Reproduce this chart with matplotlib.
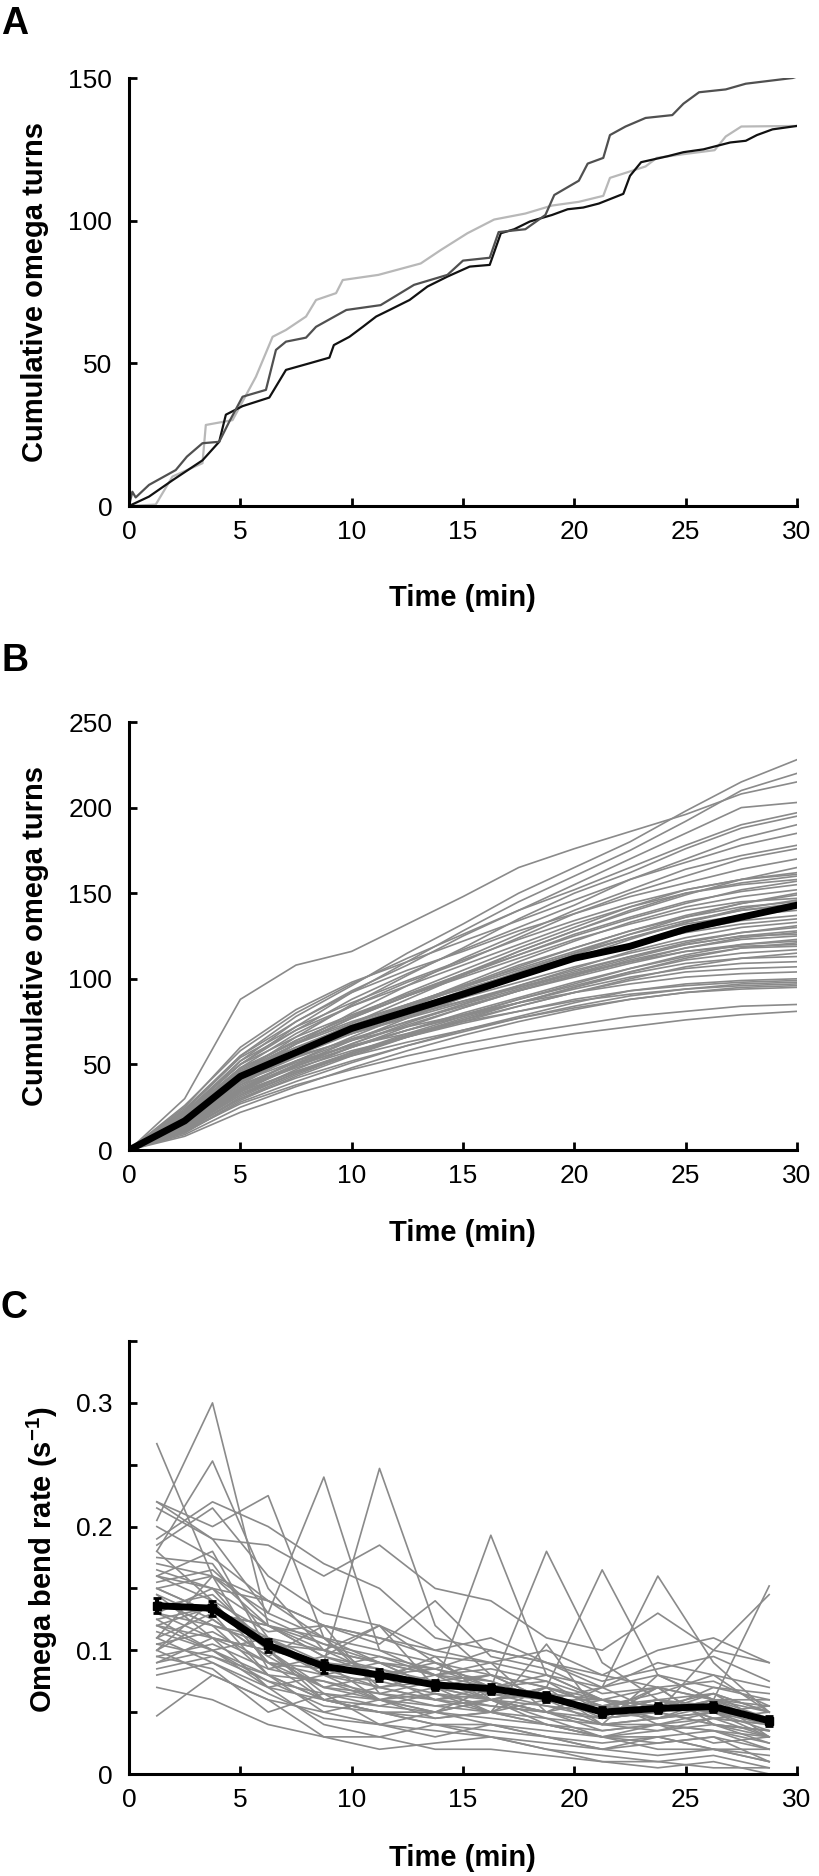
import matplotlib
matplotlib.use("Agg")
import matplotlib.pyplot as plt
import numpy as np

plt.rcParams['font.family'] = ['Liberation Sans', 'DejaVu Sans']
plt.rcParams['mathtext.fontset'] = 'custom'
plt.rcParams['mathtext.rm'] = 'Liberation Sans'
plt.rcParams['mathtext.bf'] = 'Liberation Sans:bold'

# ---------------- Panel A data (three example animals) ----------------
a_dark_t = [0, 0.15, 0.3, 0.9, 2.1, 2.6, 3.3, 4.05, 4.5, 5.1, 6.15, 6.6, 7.05, 7.95, 8.4, 9.76,
            11.3, 12.8, 14.3, 15.0, 16.2, 16.6, 17.8, 18.7, 19.1, 20.2, 20.6, 21.3, 21.6, 22.3,
            23.2, 24.4, 24.9, 25.6, 26.8, 27.7, 29.8, 30.0]
a_dark_v = [0, 5, 3, 7.4, 12.6, 17.3, 22, 22.5, 29.5, 38.3, 40.7, 54.7, 57.6, 59, 62.8, 68.7,
            70.4, 77.5, 81, 86, 87, 96, 97, 102, 109, 114, 120, 122, 130, 133,
            136, 137, 141, 145, 146, 148, 150, 150.5]
a_black_t = [0, 0.9, 1.95, 3.3, 4.05, 4.35, 5.1, 6.3, 7.05, 8.1, 9.0, 9.2, 9.9, 10.5, 11.1, 11.7,
             12.6, 13.4, 14.3, 15.3, 16.2, 16.7, 17.3, 18.0, 19.0, 19.7, 20.4, 21.1, 22.2,
             22.5, 23.0, 24.2, 24.9, 25.8, 27.0, 27.7, 28.2, 28.9, 30.0]
a_black_v = [0, 3.3, 9, 16, 22.5, 32, 35, 38, 47.7, 50, 52, 56.4, 59.3, 62.8, 66.4, 68.7,
             72.2, 76.9, 80.4, 83.9, 84.5, 95.6, 97, 99.7, 102, 104, 104.6, 106, 109.4,
             115.7, 120.5, 122.6, 124, 125, 127.4, 128, 130, 132, 133.2]
a_light_t = [0, 1.2, 1.95, 3.3, 3.45, 4.65, 5.7, 6.45, 7.05, 7.95, 8.4, 9.3, 9.6, 11.2,
             13.1, 14.0, 15.2, 16.4, 17.8, 19.0, 20.2, 21.3, 21.6, 23.2, 23.7, 24.9, 26.3,
             26.8, 27.5, 30.0]
a_light_v = [0, 0.5, 10.3, 15, 28.4, 30.1, 45.3, 59.3, 61.7, 66.4, 72.2, 74.6, 79.2, 81,
             85, 89.7, 95.6, 100.4, 102.5, 105.3, 106.6, 108.7, 115, 119, 122, 123.3, 124.7,
             129.5, 133, 133.2]

# ---------------- Panel B data (cumulative turns, all animals) ----------------
b_times = [0, 2.5, 5, 7.5, 10, 12.5, 15, 17.5, 20, 22.5, 25, 27.5, 30]
b_animals = [
    [0, 30, 88, 108, 116, 132, 148, 165, 176, 186, 196, 208, 215],
    [0, 24, 55, 78, 96, 115, 132, 150, 165, 180, 198, 215, 228],
    [0, 22, 50, 72, 92, 110, 128, 145, 160, 175, 192, 210, 220],
    [0, 20, 52, 75, 93, 108, 125, 140, 155, 170, 185, 200, 203],
    [0, 26, 58, 80, 97, 112, 126, 140, 152, 165, 178, 190, 197],
    [0, 18, 45, 66, 85, 102, 118, 135, 150, 162, 176, 188, 195],
    [0, 21, 50, 70, 88, 103, 117, 130, 143, 158, 170, 182, 190],
    [0, 25, 60, 82, 98, 110, 122, 134, 146, 158, 168, 178, 185],
    [0, 17, 42, 62, 80, 96, 112, 126, 140, 152, 164, 172, 178],
    [0, 20, 48, 68, 84, 98, 110, 124, 138, 150, 160, 170, 176],
    [0, 23, 55, 75, 92, 105, 116, 128, 138, 148, 156, 164, 170],
    [0, 19, 46, 64, 78, 92, 105, 118, 130, 142, 152, 158, 162],
    [0, 16, 40, 58, 74, 88, 102, 116, 128, 140, 150, 156, 160],
    [0, 22, 52, 70, 84, 96, 108, 120, 132, 142, 150, 155, 158],
    [0, 18, 44, 62, 77, 90, 102, 114, 126, 136, 145, 151, 155],
    [0, 15, 38, 56, 71, 84, 97, 110, 122, 133, 142, 148, 152],
    [0, 20, 47, 64, 78, 90, 101, 112, 123, 132, 140, 145, 147],
    [0, 17, 42, 58, 72, 85, 96, 108, 118, 128, 136, 142, 145],
    [0, 14, 36, 52, 66, 79, 91, 103, 114, 124, 133, 140, 143],
    [0, 19, 44, 60, 73, 84, 95, 105, 115, 124, 132, 137, 140],
    [0, 16, 40, 55, 68, 80, 91, 101, 111, 120, 128, 134, 137],
    [0, 21, 48, 63, 75, 85, 94, 103, 112, 120, 127, 132, 135],
    [0, 13, 34, 49, 62, 74, 85, 96, 106, 116, 124, 130, 133],
    [0, 18, 42, 57, 69, 79, 89, 98, 107, 115, 122, 127, 130],
    [0, 15, 37, 52, 64, 75, 85, 94, 103, 112, 120, 125, 128],
    [0, 12, 32, 47, 60, 72, 83, 93, 102, 111, 118, 123, 125],
    [0, 17, 40, 54, 65, 75, 84, 93, 101, 109, 116, 120, 122],
    [0, 20, 46, 60, 70, 79, 87, 95, 103, 110, 116, 119, 120],
    [0, 14, 35, 49, 60, 70, 79, 88, 96, 104, 111, 115, 117],
    [0, 11, 30, 44, 56, 67, 77, 86, 95, 103, 109, 112, 113],
    [0, 16, 38, 51, 61, 70, 78, 86, 94, 101, 106, 109, 110],
    [0, 13, 33, 46, 57, 67, 76, 84, 92, 99, 104, 106, 107],
    [0, 18, 42, 55, 64, 72, 79, 86, 92, 97, 101, 103, 104],
    [0, 10, 28, 40, 51, 61, 70, 78, 86, 93, 97, 99, 100],
    [0, 15, 36, 48, 58, 66, 74, 81, 88, 93, 96, 98, 99],
    [0, 12, 30, 42, 52, 61, 69, 77, 84, 90, 94, 97, 98],
    [0, 17, 40, 52, 61, 68, 75, 81, 87, 91, 94, 96, 97],
    [0, 9, 25, 37, 48, 58, 67, 75, 82, 88, 92, 95, 96],
    [0, 14, 34, 46, 55, 63, 70, 77, 83, 88, 92, 94, 95],
    [0, 11, 27, 38, 47, 55, 62, 68, 73, 78, 81, 84, 85],
    [0, 8, 22, 33, 42, 50, 57, 63, 68, 72, 76, 79, 81],
    [0, 13, 32, 45, 56, 66, 75, 84, 92, 100, 107, 112, 115],
    [0, 19, 46, 62, 74, 85, 96, 106, 116, 126, 134, 140, 144],
    [0, 15, 39, 56, 70, 83, 95, 107, 118, 128, 137, 144, 149],
    [0, 22, 50, 66, 79, 91, 103, 114, 125, 135, 144, 152, 157],
    [0, 12, 34, 50, 64, 77, 89, 101, 112, 123, 133, 141, 146],
    [0, 17, 44, 62, 77, 90, 103, 116, 128, 139, 149, 158, 165],
    [0, 14, 36, 50, 62, 73, 83, 93, 102, 110, 118, 124, 127],
    [0, 20, 45, 58, 68, 77, 86, 95, 104, 113, 121, 127, 131],
    [0, 10, 29, 43, 55, 66, 76, 86, 95, 104, 112, 118, 121],
    [0, 16, 41, 57, 70, 82, 93, 104, 115, 126, 136, 144, 150],
    [0, 23, 54, 72, 86, 99, 111, 123, 134, 144, 152, 158, 161],
    [0, 13, 35, 49, 60, 70, 80, 89, 98, 106, 113, 118, 119],
    [0, 18, 43, 57, 68, 78, 87, 96, 105, 113, 120, 125, 126],
    [0, 11, 31, 45, 57, 68, 78, 88, 97, 106, 114, 120, 123],
]
b_mean = [0, 17, 43, 57, 71, 81, 91, 101.6, 112, 119, 129, 136, 143]

# ---------------- Panel C data (omega bend rate per 2.5-min bin) ----------------
c_times = [1.25, 3.75, 6.25, 8.75, 11.25, 13.75, 16.25, 18.75, 21.25, 23.75, 26.25, 28.75]
c_animals = [
    [.267, .160, .120, .095, .085, .070, .060, .065, .045, .050, .040, .035],
    [.205, .300, .120, .110, .090, .080, .075, .060, .050, .060, .045, .040],
    [.180, .253, .150, .100, .120, .090, .070, .080, .060, .055, .050, .045],
    [.220, .200, .225, .110, .075, .095, .060, .070, .055, .045, .060, .030],
    [.215, .190, .130, .240, .100, .080, .090, .050, .060, .040, .045, .050],
    [.160, .180, .100, .090, .247, .120, .080, .060, .050, .070, .040, .035],
    [.140, .120, .110, .080, .090, .070, .193, .080, .060, .050, .065, .040],
    [.120, .110, .100, .070, .080, .090, .070, .180, .090, .060, .050, .055],
    [.100, .140, .090, .085, .070, .060, .050, .070, .165, .080, .060, .045],
    [.110, .130, .080, .060, .070, .080, .060, .050, .070, .160, .090, .050],
    [.130, .150, .100, .090, .060, .050, .070, .060, .040, .080, .060, .152],
    [.090, .100, .070, .080, .060, .070, .050, .060, .070, .050, .100, .145],
    [.047, .080, .060, .050, .040, .030, .040, .030, .020, .030, .020, .010],
    [.190, .220, .200, .170, .150, .110, .100, .090, .080, .100, .110, .090],
    [.220, .190, .185, .160, .185, .150, .140, .110, .100, .130, .100, .090],
    [.185, .215, .160, .130, .120, .100, .110, .090, .070, .090, .080, .070],
    [.170, .160, .140, .120, .110, .100, .090, .100, .080, .070, .060, .060],
    [.150, .130, .120, .100, .090, .070, .060, .050, .040, .040, .050, .030],
    [.160, .140, .090, .070, .060, .050, .060, .040, .030, .030, .020, .020],
    [.140, .120, .080, .060, .050, .040, .040, .030, .020, .025, .030, .010],
    [.130, .110, .090, .060, .050, .050, .040, .035, .030, .020, .020, .015],
    [.120, .100, .080, .050, .060, .045, .050, .040, .030, .025, .030, .020],
    [.110, .090, .070, .040, .030, .040, .030, .020, .015, .010, .015, .005],
    [.100, .080, .060, .030, .020, .025, .030, .020, .010, .005, .010, .000],
    [.150, .160, .130, .110, .100, .090, .080, .070, .060, .050, .070, .060],
    [.125, .135, .110, .100, .090, .080, .070, .075, .050, .060, .055, .045],
    [.105, .115, .090, .080, .070, .060, .065, .055, .045, .050, .040, .035],
    [.095, .105, .085, .075, .065, .055, .050, .045, .040, .035, .045, .030],
    [.085, .095, .075, .065, .055, .050, .045, .040, .035, .040, .035, .025],
    [.175, .170, .110, .090, .085, .075, .080, .070, .055, .060, .065, .050],
    [.145, .125, .095, .070, .065, .060, .055, .050, .045, .050, .060, .040],
    [.135, .145, .105, .080, .075, .065, .060, .055, .050, .045, .055, .045],
    [.115, .100, .075, .055, .050, .040, .035, .030, .025, .030, .035, .020],
    [.165, .150, .120, .095, .080, .085, .070, .065, .060, .070, .075, .055],
    [.200, .175, .140, .120, .110, .095, .090, .080, .070, .080, .070, .065],
    [.155, .165, .125, .105, .095, .085, .100, .090, .075, .085, .095, .075],
    [.070, .060, .040, .030, .030, .020, .020, .015, .010, .010, .005, .005],
    [.080, .090, .065, .045, .040, .035, .030, .025, .020, .015, .020, .010],
    [.100, .125, .095, .120, .065, .075, .060, .070, .040, .045, .050, .035],
    [.125, .100, .110, .085, .095, .080, .085, .075, .060, .055, .065, .050],
    [.180, .140, .115, .120, .105, .140, .095, .085, .065, .070, .060, .055],
    [.110, .160, .085, .095, .120, .070, .080, .060, .055, .065, .080, .050],
    [.145, .110, .100, .060, .055, .065, .050, .105, .045, .070, .040, .025],
    [.095, .085, .050, .065, .040, .050, .060, .045, .030, .040, .025, .030],
    [.130, .120, .105, .100, .080, .060, .070, .065, .050, .060, .045, .040],
    [.160, .150, .140, .110, .070, .075, .065, .060, .060, .055, .050, .045],
    [.120, .135, .100, .065, .060, .055, .060, .050, .040, .045, .050, .040],
    [.105, .095, .080, .075, .060, .065, .055, .050, .035, .040, .035, .030],
    [.090, .110, .070, .060, .050, .045, .050, .040, .030, .035, .040, .030],
    [.150, .130, .120, .105, .090, .085, .075, .060, .055, .050, .060, .050],
]
c_mean = [0.136, 0.134, 0.104, 0.087, 0.080, 0.072, 0.069, 0.0625, 0.050, 0.053, 0.0545, 0.043]
c_sem = [0.006, 0.006, 0.005, 0.005, 0.005, 0.004, 0.004, 0.004, 0.004, 0.004, 0.004, 0.004]

# ---------------- Figure ----------------
W, H = 820, 1876
fig = plt.figure(figsize=(W / 100, H / 100), dpi=100)

def px_axes(left, top, right, bottom):
    return fig.add_axes([left / W, 1 - bottom / H, (right - left) / W, (bottom - top) / H])

axA = px_axes(129, 78, 797, 506)
axB = px_axes(129, 722, 797, 1150)
axC = px_axes(129, 1341, 797, 1774)

GRAY = '#8a8a8a'

def style(ax):
    for s in ('top', 'right'):
        ax.spines[s].set_visible(False)
    for s in ('left', 'bottom'):
        ax.spines[s].set_linewidth(2.2)
        ax.spines[s].set_color('black')
    ax.tick_params(direction='in', length=6, width=2, labelsize=19, colors='black')
    ax.tick_params(axis='x', pad=10)
    ax.tick_params(axis='y', pad=12)
    ax.set_xlim(0, 30)
    ax.set_xticks([0, 5, 10, 15, 20, 25, 30])

# Panel A
axA.plot(a_light_t, a_light_v, color='#b8b8b8', lw=1.6)
axA.plot(a_black_t, a_black_v, color='#111111', lw=1.6)
axA.plot(a_dark_t, a_dark_v, color='#505050', lw=1.6)
style(axA)
axA.set_ylim(0, 150)
axA.set_yticks([0, 50, 100, 150])

# Panel B
for row in b_animals:
    axB.plot(b_times, row, color=GRAY, lw=1.2)
axB.plot(b_times, b_mean, color='black', lw=5, solid_capstyle='round')
style(axB)
axB.set_ylim(0, 250)
axB.set_yticks([0, 50, 100, 150, 200, 250])

# Panel C
for row in c_animals:
    axC.plot(c_times, row, color=GRAY, lw=1.2)
axC.errorbar(c_times, c_mean, yerr=c_sem, color='black', lw=5, marker='s', ms=6,
             elinewidth=3, capsize=3, capthick=2)
style(axC)
axC.set_ylim(0, 0.35)
axC.set_yticks([0, 0.05, 0.1, 0.15, 0.2, 0.25, 0.3, 0.35])
axC.set_yticklabels(['0', '', '0.1', '', '0.2', '', '0.3', ''])

# Labels
lab_kw = dict(fontsize=21, fontweight='bold', ha='center', va='center')
fig.text(35 / W, 1 - 292 / H, 'Cumulative omega turns', rotation=90, **lab_kw)
fig.text(35 / W, 1 - 936 / H, 'Cumulative omega turns', rotation=90, **lab_kw)
fig.text(42 / W, 1 - 1560 / H, r'Omega bend rate (s$^{\mathbf{-1}}$)', rotation=90, **lab_kw)
fig.text(462 / W, 1 - 598 / H, 'Time (min)', **lab_kw)
fig.text(462 / W, 1 - 1233 / H, 'Time (min)', **lab_kw)
fig.text(462 / W, 1 - 1858 / H, 'Time (min)', **lab_kw)

pl_kw = dict(fontsize=27, fontweight='bold', ha='left', va='top')
fig.text(1 / W, 1 - 6 / H, 'A', **pl_kw)
fig.text(1 / W, 1 - 643 / H, 'B', **pl_kw)
fig.text(1 / W, 1 - 1290 / H, 'C', **pl_kw)

fig.savefig('out.png', dpi=100)
